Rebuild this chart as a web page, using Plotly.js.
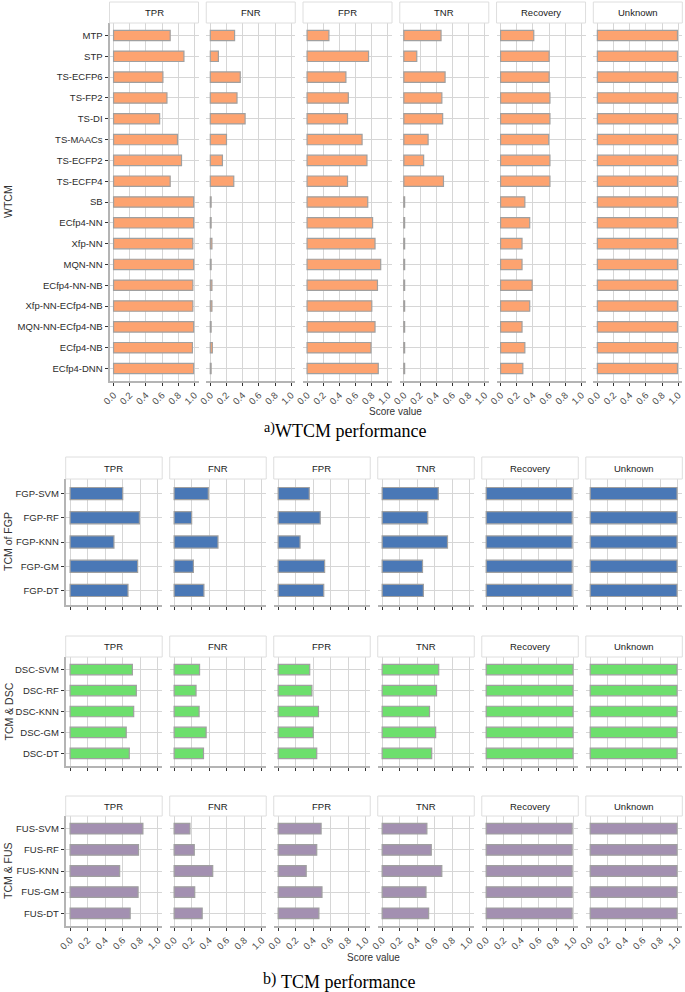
<!DOCTYPE html>
<html>
<head>
<meta charset="utf-8">
<script src="https://cdn.plot.ly/plotly-3.0.1.min.js"></script>
<style>html,body{margin:0;padding:0;background:#fff;}#chart{width:685px;height:992px;}</style>
</head>
<body>
<div id="chart"></div>
<script>
// ---------- DATA ----------
const metrics = ['TPR', 'FNR', 'FPR', 'TNR', 'Recovery', 'Unknown'];

const wtcmModels = ['MTP', 'STP', 'TS-ECFP6', 'TS-FP2', 'TS-DI', 'TS-MAACs', 'TS-ECFP2', 'TS-ECFP4', 'SB',
  'ECfp4-NN', 'Xfp-NN', 'MQN-NN', 'ECfp4-NN-NB', 'Xfp-NN-ECfp4-NB', 'MQN-NN-ECfp4-NB', 'ECfp4-NB', 'ECfp4-DNN'];
const wtcmTPR = [0.70, 0.87, 0.61, 0.66, 0.57, 0.79, 0.84, 0.70, 0.99, 0.99, 0.98, 0.99, 0.98, 0.98, 0.99, 0.975, 0.99];
const wtcmFNR = [0.30, 0.10, 0.37, 0.33, 0.43, 0.20, 0.15, 0.29, 0.01, 0.01, 0.02, 0.01, 0.02, 0.02, 0.01, 0.025, 0.01];
const wtcmFPR = [0.27, 0.76, 0.48, 0.51, 0.50, 0.68, 0.74, 0.50, 0.75, 0.81, 0.84, 0.91, 0.87, 0.80, 0.84, 0.79, 0.88];
const wtcmTNR = [0.46, 0.16, 0.51, 0.47, 0.48, 0.30, 0.245, 0.49, 0.01, 0.01, 0.01, 0.01, 0.01, 0.01, 0.01, 0.01, 0.01];
const wtcmRecovery = [0.41, 0.60, 0.60, 0.61, 0.61, 0.595, 0.61, 0.61, 0.30, 0.36, 0.265, 0.265, 0.39, 0.36, 0.265, 0.30, 0.275];
const wtcmUnknown = [0.99, 0.99, 0.99, 0.99, 0.99, 0.99, 0.99, 0.99, 0.99, 0.99, 0.99, 0.99, 0.99, 0.99, 0.99, 0.99, 0.99];

const fgpModels = ['FGP-SVM', 'FGP-RF', 'FGP-KNN', 'FGP-GM', 'FGP-DT'];
const fgpTPR = [0.60, 0.79, 0.50, 0.77, 0.66];
const fgpFNR = [0.39, 0.20, 0.50, 0.22, 0.34];
const fgpFPR = [0.355, 0.48, 0.25, 0.53, 0.52];
const fgpTNR = [0.64, 0.52, 0.745, 0.46, 0.47];
const fgpRecovery = [0.98, 0.98, 0.98, 0.98, 0.98];
const fgpUnknown = [0.99, 0.99, 0.99, 0.99, 0.99];

const dscModels = ['DSC-SVM', 'DSC-RF', 'DSC-KNN', 'DSC-GM', 'DSC-DT'];
const dscTPR = [0.71, 0.755, 0.725, 0.64, 0.675];
const dscFNR = [0.29, 0.25, 0.285, 0.365, 0.335];
const dscFPR = [0.36, 0.385, 0.46, 0.40, 0.44];
const dscTNR = [0.645, 0.62, 0.54, 0.61, 0.565];
const dscRecovery = [0.99, 0.99, 0.99, 0.99, 0.99];
const dscUnknown = [0.99, 0.99, 0.99, 0.99, 0.99];

const fusModels = ['FUS-SVM', 'FUS-RF', 'FUS-KNN', 'FUS-GM', 'FUS-DT'];
const fusTPR = [0.83, 0.78, 0.565, 0.775, 0.685];
const fusFNR = [0.18, 0.23, 0.44, 0.235, 0.32];
const fusFPR = [0.49, 0.44, 0.32, 0.50, 0.465];
const fusTNR = [0.51, 0.56, 0.68, 0.50, 0.53];
const fusRecovery = [0.98, 0.98, 0.98, 0.98, 0.98];
const fusUnknown = [0.99, 0.99, 0.99, 0.99, 0.99];

const xTickVals = [0, 0.2, 0.4, 0.6, 0.8, 1.0];
const xTickText = ['0.0', '0.2', '0.4', '0.6', '0.8', '1.0'];

const groupTitles = ['WTCM', 'TCM of FGP', 'TCM & DSC', 'TCM & FUS'];

// ---------- LAYOUT GEOMETRY (pixels) ----------
const W = 685, H = 992;
const fx = p => p / W;
const fy = p => 1 - p / H;

const groups = [
  {models: wtcmModels, vals: [wtcmTPR, wtcmFNR, wtcmFPR, wtcmTNR, wtcmRecovery, wtcmUnknown],
   color: '#fda370', left: 109.5, right: 682.3, stripTop: 2, plotTop: 23, plotBottom: 381, labels: true, titleX: 8},
  {models: fgpModels, vals: [fgpTPR, fgpFNR, fgpFPR, fgpTNR, fgpRecovery, fgpUnknown],
   color: '#4a78b6', left: 65.7, right: 682.3, stripTop: 457, plotTop: 479, plotBottom: 605, labels: false, titleX: 8},
  {models: dscModels, vals: [dscTPR, dscFNR, dscFPR, dscTNR, dscRecovery, dscUnknown],
   color: '#6ddf6d', left: 65.7, right: 682.3, stripTop: 636, plotTop: 657, plotBottom: 766, labels: false, titleX: 8},
  {models: fusModels, vals: [fusTPR, fusFNR, fusFPR, fusTNR, fusRecovery, fusUnknown],
   color: '#a390b1', left: 65.7, right: 682.3, stripTop: 796, plotTop: 816, plotBottom: 926, labels: true, titleX: 8}
];

const gap = [7.76, 7.52, 7.52, 7.52];

const traces = [];
const layout = {
  width: W, height: H, autosize: false,
  margin: {l: 0, r: 0, t: 0, b: 0, pad: 0},
  paper_bgcolor: '#fff', plot_bgcolor: '#fff',
  showlegend: false, bargap: 0,
  font: {family: 'Liberation Sans, Arial, sans-serif', color: '#333'},
  shapes: [], annotations: []
};

let axN = 0;
groups.forEach((g, gi) => {
  const n = g.models.length;
  const pw = (g.right - g.left - 5 * gap[gi]) / 6;
  const yName = 'yaxis' + (gi + 1);
  const yRef = 'y' + (gi + 1);
  const firstX = axN + 1;
  layout[yName] = {
    domain: [fy(g.plotBottom), fy(g.plotTop)],
    anchor: 'x' + firstX,
    type: 'category',
    categoryorder: 'array', categoryarray: g.models,
    range: [n - 1 + 0.6, -0.6],
    showgrid: true, gridcolor: '#d6d6d6', gridwidth: 1,
    showline: true, linecolor: '#b4b4b4', linewidth: 2,
    ticks: 'outside', ticklen: 3, tickwidth: 1, tickcolor: '#333',
    tickfont: {size: 9.5, color: '#2b2b2b', family: 'Liberation Sans, Arial, sans-serif'},
    zeroline: false, fixedrange: true
  };
  metrics.forEach((m, mi) => {
    axN++;
    const x0 = g.left + mi * (pw + gap[gi]);
    const x1 = x0 + pw;
    const xName = 'xaxis' + axN;
    layout[xName] = {
      domain: [fx(x0), fx(x1)],
      anchor: yRef,
      range: [-0.05, 1.05],
      tickvals: xTickVals, ticktext: xTickText,
      showticklabels: g.labels, tickangle: -45,
      tickfont: {size: 9.5, color: '#4d4d4d', family: 'Liberation Sans, Arial, sans-serif'},
      showgrid: true, gridcolor: '#d6d6d6', gridwidth: 1,
      showline: true, linecolor: '#b4b4b4', linewidth: 2,
      ticks: 'outside', ticklen: 3, tickwidth: 1, tickcolor: '#333',
      zeroline: false, fixedrange: true
    };
    traces.push({
      type: 'bar', orientation: 'h',
      x: g.vals[mi], y: g.models,
      xaxis: 'x' + axN, yaxis: yRef,
      width: 0.5,
      marker: {color: g.color, line: {color: '#a0a0a0', width: 1.2}},
      hoverinfo: 'x+y'
    });
    // strip
    layout.shapes.push({
      type: 'rect', xref: 'paper', yref: 'paper',
      x0: fx(x0), x1: fx(x1), y0: fy(g.plotTop), y1: fy(g.stripTop),
      fillcolor: '#fff', line: {color: '#dedede', width: 1}
    });
    layout.annotations.push({
      xref: 'paper', yref: 'paper', x: fx((x0 + x1) / 2), y: fy((g.stripTop + g.plotTop) / 2),
      text: m, showarrow: false, xanchor: 'center', yanchor: 'middle',
      font: {size: 9.5, color: '#1a1a1a'}
    });
  });
  // group y title
  layout.annotations.push({
    xref: 'paper', yref: 'paper', x: fx(g.titleX), y: fy((g.plotTop + g.plotBottom) / 2),
    text: groupTitles[gi], showarrow: false, textangle: -90,
    xanchor: 'center', yanchor: 'middle', font: {size: 10.5, color: '#333'}
  });
});

// x-axis titles
layout.annotations.push({
  xref: 'paper', yref: 'paper', x: fx(395.5), y: fy(412), text: 'Score value',
  showarrow: false, xanchor: 'center', yanchor: 'middle', font: {size: 10, color: '#333'}
});
layout.annotations.push({
  xref: 'paper', yref: 'paper', x: fx(374), y: fy(957), text: 'Score value',
  showarrow: false, xanchor: 'center', yanchor: 'middle', font: {size: 10, color: '#333'}
});
// captions
const serif = 'Liberation Serif, Times New Roman, serif';
layout.annotations.push({
  xref: 'paper', yref: 'paper', x: fx(276), y: fy(428), text: 'a)', borderpad: 0,
  showarrow: false, xanchor: 'right', yanchor: 'middle', font: {size: 14, color: '#000', family: serif}
});
layout.annotations.push({
  xref: 'paper', yref: 'paper', x: fx(274), y: fy(431), text: 'WTCM performance', borderpad: 0,
  showarrow: false, xanchor: 'left', yanchor: 'middle', font: {size: 18, color: '#000', family: serif}
});
layout.annotations.push({
  xref: 'paper', yref: 'paper', x: fx(277), y: fy(979), text: 'b)', borderpad: 0,
  showarrow: false, xanchor: 'right', yanchor: 'middle', font: {size: 16, color: '#000', family: serif}
});
layout.annotations.push({
  xref: 'paper', yref: 'paper', x: fx(280), y: fy(982), text: 'TCM performance', borderpad: 0,
  showarrow: false, xanchor: 'left', yanchor: 'middle', font: {size: 18, color: '#000', family: serif}
});

Plotly.newPlot('chart', traces, layout, {staticPlot: true, displayModeBar: false});
</script>
</body>
</html>
